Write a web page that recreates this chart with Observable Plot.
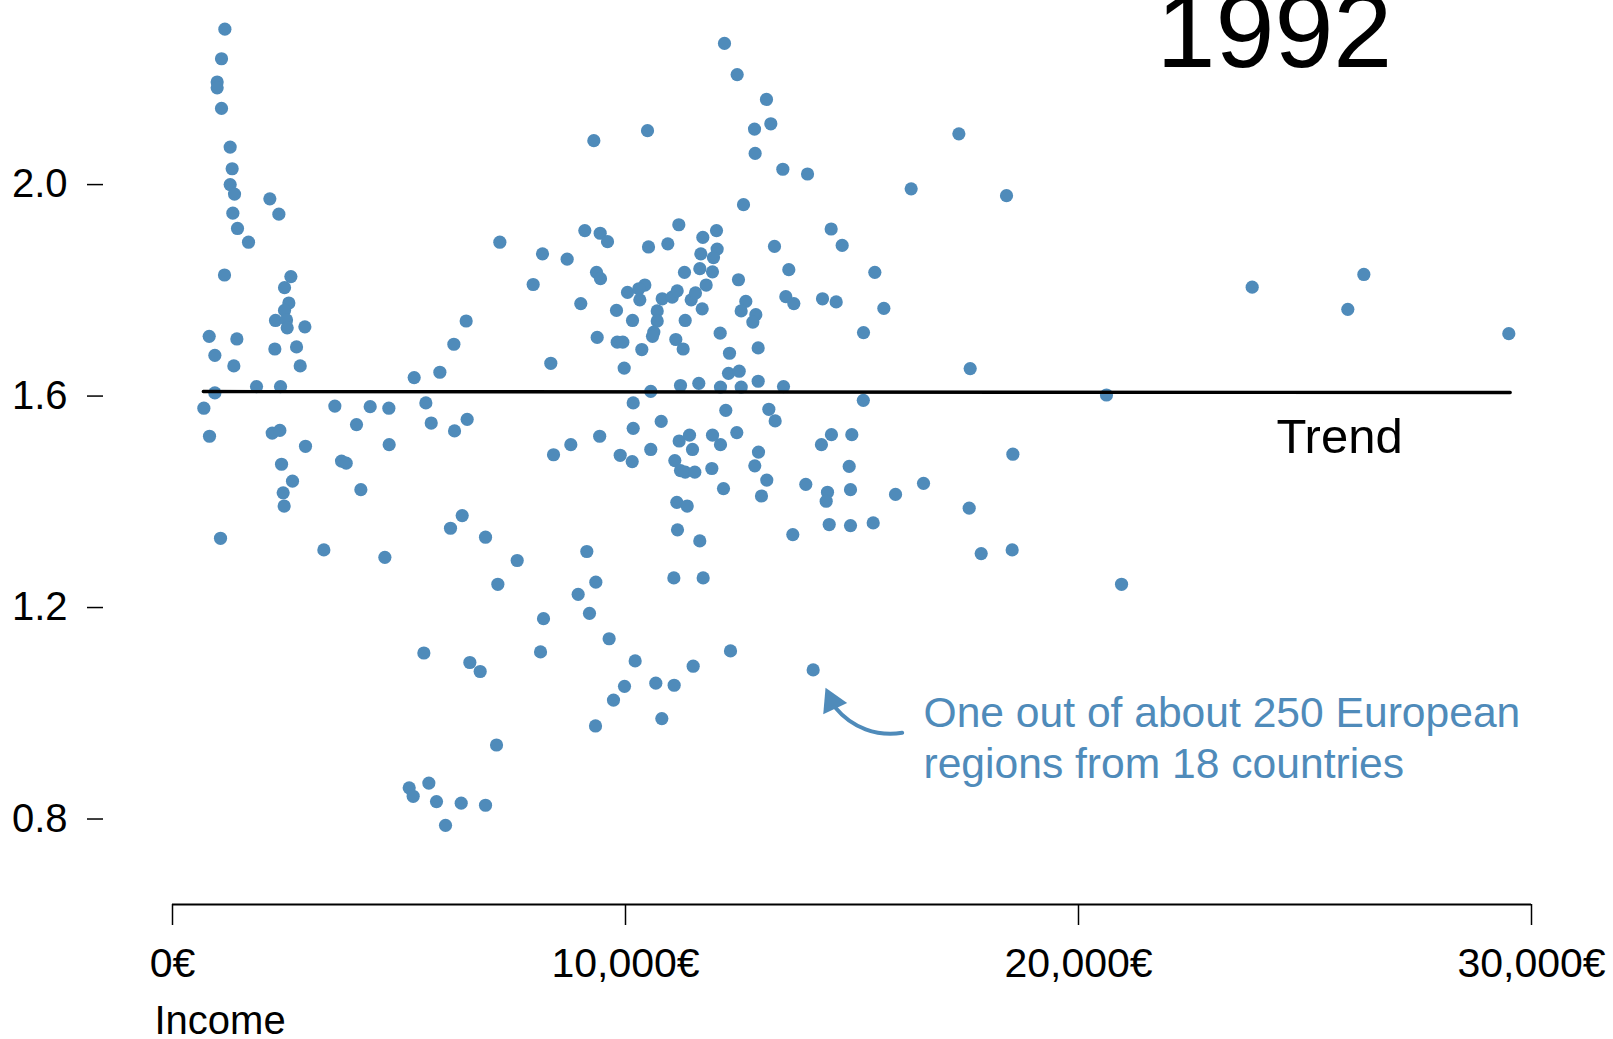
<!DOCTYPE html>
<html>
<head>
<meta charset="utf-8">
<script src="https://cdn.jsdelivr.net/npm/d3@7"></script>
<script src="https://cdn.jsdelivr.net/npm/@observablehq/plot@0.6"></script>
<style>
  html, body { margin: 0; padding: 0; background: #fff; overflow: hidden; }
</style>
</head>
<body>
<div id="chart"></div>
<script>
// Regional income (€) and the plotted rate, one value per region
const income = [
  1156,1082,986,986,1082,1273,1317,1273,1369,2149,1332,2348,1435,1678,7226,1148,2613,2473,
  2568,2473,2274,2517,2532,2922,810,1421,935,1354,2259,2738,2819,6483,6211,5902,5335,1855,2385,935,692,3584,4364,4776,5593,4062,5711,6505,6226,817,2201,2370,2936,4783,2407,3731,3834,2649,4158,2443,2465,6395,6137,1060,6910,3341,4688,7609,
  7182,5549,6564,6792,7153,5225,5313,5659,5828,6373,6910,6027,
  12185,12465,13112,13208,12848,10486,9301,12862,13473,14018,12605,11177,9102,9441,9603,12009,11707,14540,14783,13289,10508,10934,12023,11663,11942,8168,8712,11641,11920,11302,13605,12494,9360,9448,7962,10427,11781,
  10044,10294,10316,10810,11031,11141,11450,11545,11693,
  9013,9801,10155,10700,10700,11318,12656,12553,12877,12811,13539,13716,14349,14651,15254,9375,9817,9941,10625,10596,11111,11273,10360,12090,12296,12929,8351,9971,12274,12510,11214,11618,12097,12554,12929,13488,10558,15250,10170,12214,13164,13304,10788,10170,9430,8793,8411,9883,10148,10558,11185,11413,11479,11921,12097,12457,11089,11214,11318,11530,11906,12936,12854,13119,12163,13002,13980,14325,14546,14996,14938,14459,14430,14967,14497,14967,13693,11133,11362,11148,11640,9146,9345,11067,11714,
  8955,8190,9205,8124,9639,10213,11494,12318,14143,9978,10669,11074,9735,9338,10802,
  17359,16306,18411,15504,
  15703,17609,20618,18551,16579,15961,17587,15468,17852,18536,20950,
  26299,23834,25945,29499
];
const rate = [
  2.294,2.238,2.194,2.183,2.144,2.071,2.030,2.000,1.982,1.973,1.946,1.944,1.917,1.891,1.891,1.829,1.826,1.805,
  1.776,1.762,1.743,1.744,1.729,1.731,1.713,1.708,1.677,1.657,1.689,1.693,1.657,1.742,1.698,1.645,1.635,1.618,1.618,1.606,1.577,1.581,1.580,1.577,1.587,1.546,1.549,1.556,1.534,1.524,1.530,1.535,1.505,1.508,1.471,1.477,1.473,1.439,1.423,1.417,1.392,1.374,1.350,1.331,1.333,1.309,1.295,1.289,
  1.244,1.114,1.096,1.079,0.940,0.859,0.843,0.868,0.833,0.830,0.826,0.788,
  2.267,2.208,2.161,2.115,2.105,2.102,2.083,2.059,2.029,2.020,1.962,1.924,1.913,1.908,1.892,1.913,1.900,1.916,1.885,1.883,1.882,1.888,1.878,1.869,1.862,1.869,1.859,1.841,1.835,1.834,1.839,1.820,1.834,1.822,1.811,1.810,1.810,
  1.796,1.803,1.782,1.784,1.787,1.799,1.782,1.795,1.765,
  1.775,1.762,1.743,1.761,1.742,1.743,1.779,1.761,1.754,1.740,1.788,1.775,1.784,1.778,1.720,1.711,1.702,1.702,1.721,1.713,1.707,1.689,1.688,1.719,1.681,1.691,1.662,1.653,1.643,1.647,1.620,1.624,1.617,1.617,1.628,1.618,1.609,1.592,1.587,1.573,1.575,1.553,1.552,1.539,1.524,1.508,1.489,1.488,1.476,1.499,1.515,1.526,1.499,1.526,1.508,1.531,1.478,1.459,1.456,1.456,1.463,1.494,1.468,1.441,1.425,1.411,1.433,1.508,1.527,1.527,1.467,1.418,1.401,1.423,1.357,1.355,1.338,1.399,1.392,1.347,1.326,1.306,1.248,1.256,1.256,
  1.225,1.179,1.189,1.116,1.141,1.099,1.089,1.118,1.082,1.051,1.057,1.053,1.025,0.976,0.990,
  2.096,1.992,1.979,1.834,
  1.766,1.652,1.602,1.490,1.435,1.414,1.388,1.360,1.302,1.309,1.244,
  1.830,1.806,1.764,1.718
];

// Trend line end points
const trendIncome = [680, 29530];
const trendRate = [1.6085, 1.6066];

// Axis ticks and domains
const xTicks = [0, 10000, 20000, 30000];
const yTicks = [0.8, 1.2, 1.6, 2.0];
const xDomain = [0, 30000];
const yDomain = [0.6383, 2.3482];

// Texts
const yearLabel = ["1992"];
const trendLabel = ["Trend"];
const xLabel = ["Income"];
const noteLines = ["One out of about 250 European", "regions from 18 countries"];

// Annotation arrow (data space)
const arrowStart = {income: 16108, rate: 0.963};
const arrowEnd = {income: 14640, rate: 1.010};
const arrowTip = {income: 14558, rate: 1.022};

const blue = "#4f8bba";
const points = income.map((x, i) => ({income: x, rate: rate[i]}));
const trend = trendIncome.map((x, i) => ({income: x, rate: trendRate[i]}));

const chart = Plot.plot({
  width: 1613,
  height: 1039,
  marginLeft: 172,
  marginRight: 82,
  marginTop: 0,
  marginBottom: 135,
  x: {domain: xDomain},
  y: {domain: yDomain},
  style: {fontFamily: "'Liberation Sans', Arial, Helvetica, sans-serif", background: "#fff", color: "#000", overflow: "visible"},
  marks: [
    Plot.ruleY([yDomain[0]], {stroke: "#000", strokeWidth: 2}),
    Plot.axisX({ticks: xTicks, tickSize: 21, tickPadding: 22, tickFormat: d => d3.format(",")(d) + "€", fontSize: 41, label: null, strokeWidth: 1.5}),
    Plot.axisY({ticks: yTicks, tickSize: 16, tickPadding: 20, dx: -69, tickFormat: d3.format(".1f"), fontSize: 40, label: null, strokeWidth: 1.5}),
    Plot.dot(points, {x: "income", y: "rate", r: 6.6, fill: blue}),
    Plot.line(trend, {x: "income", y: "rate", stroke: "#000", strokeWidth: 3.4}),
    Plot.text(yearLabel, {text: d => d, frameAnchor: "top-left", dx: 984, dy: 66, lineAnchor: "bottom", textAnchor: "start", fontSize: 106}),
    Plot.text(trendLabel, {text: d => d, frameAnchor: "top-left", dx: 1104, dy: 452, lineAnchor: "bottom", textAnchor: "start", fontSize: 49}),
    Plot.text(xLabel, {text: d => d, frameAnchor: "bottom-left", dx: -18, dy: 129, lineAnchor: "bottom", textAnchor: "start", fontSize: 40}),
    Plot.text([noteLines[0]], {text: d => d, frameAnchor: "top-left", dx: 751, dy: 726, lineAnchor: "bottom", textAnchor: "start", fontSize: 42.6, fill: blue}),
    Plot.text([noteLines[1]], {text: d => d, frameAnchor: "top-left", dx: 751, dy: 777, lineAnchor: "bottom", textAnchor: "start", fontSize: 42.6, fill: blue}),
    Plot.arrow([{s: arrowStart, e: arrowEnd}], {
      x1: d => d.s.income, y1: d => d.s.rate, x2: d => d.e.income, y2: d => d.e.rate,
      bend: 30, headLength: 0, stroke: blue, strokeWidth: 4, strokeLinecap: "round"
    }),
    Plot.dot([arrowTip], {x: "income", y: "rate", symbol: "triangle", r: 9.8, fill: blue, rotate: -25})
  ]
});
document.getElementById("chart").appendChild(chart);
</script>
</body>
</html>
